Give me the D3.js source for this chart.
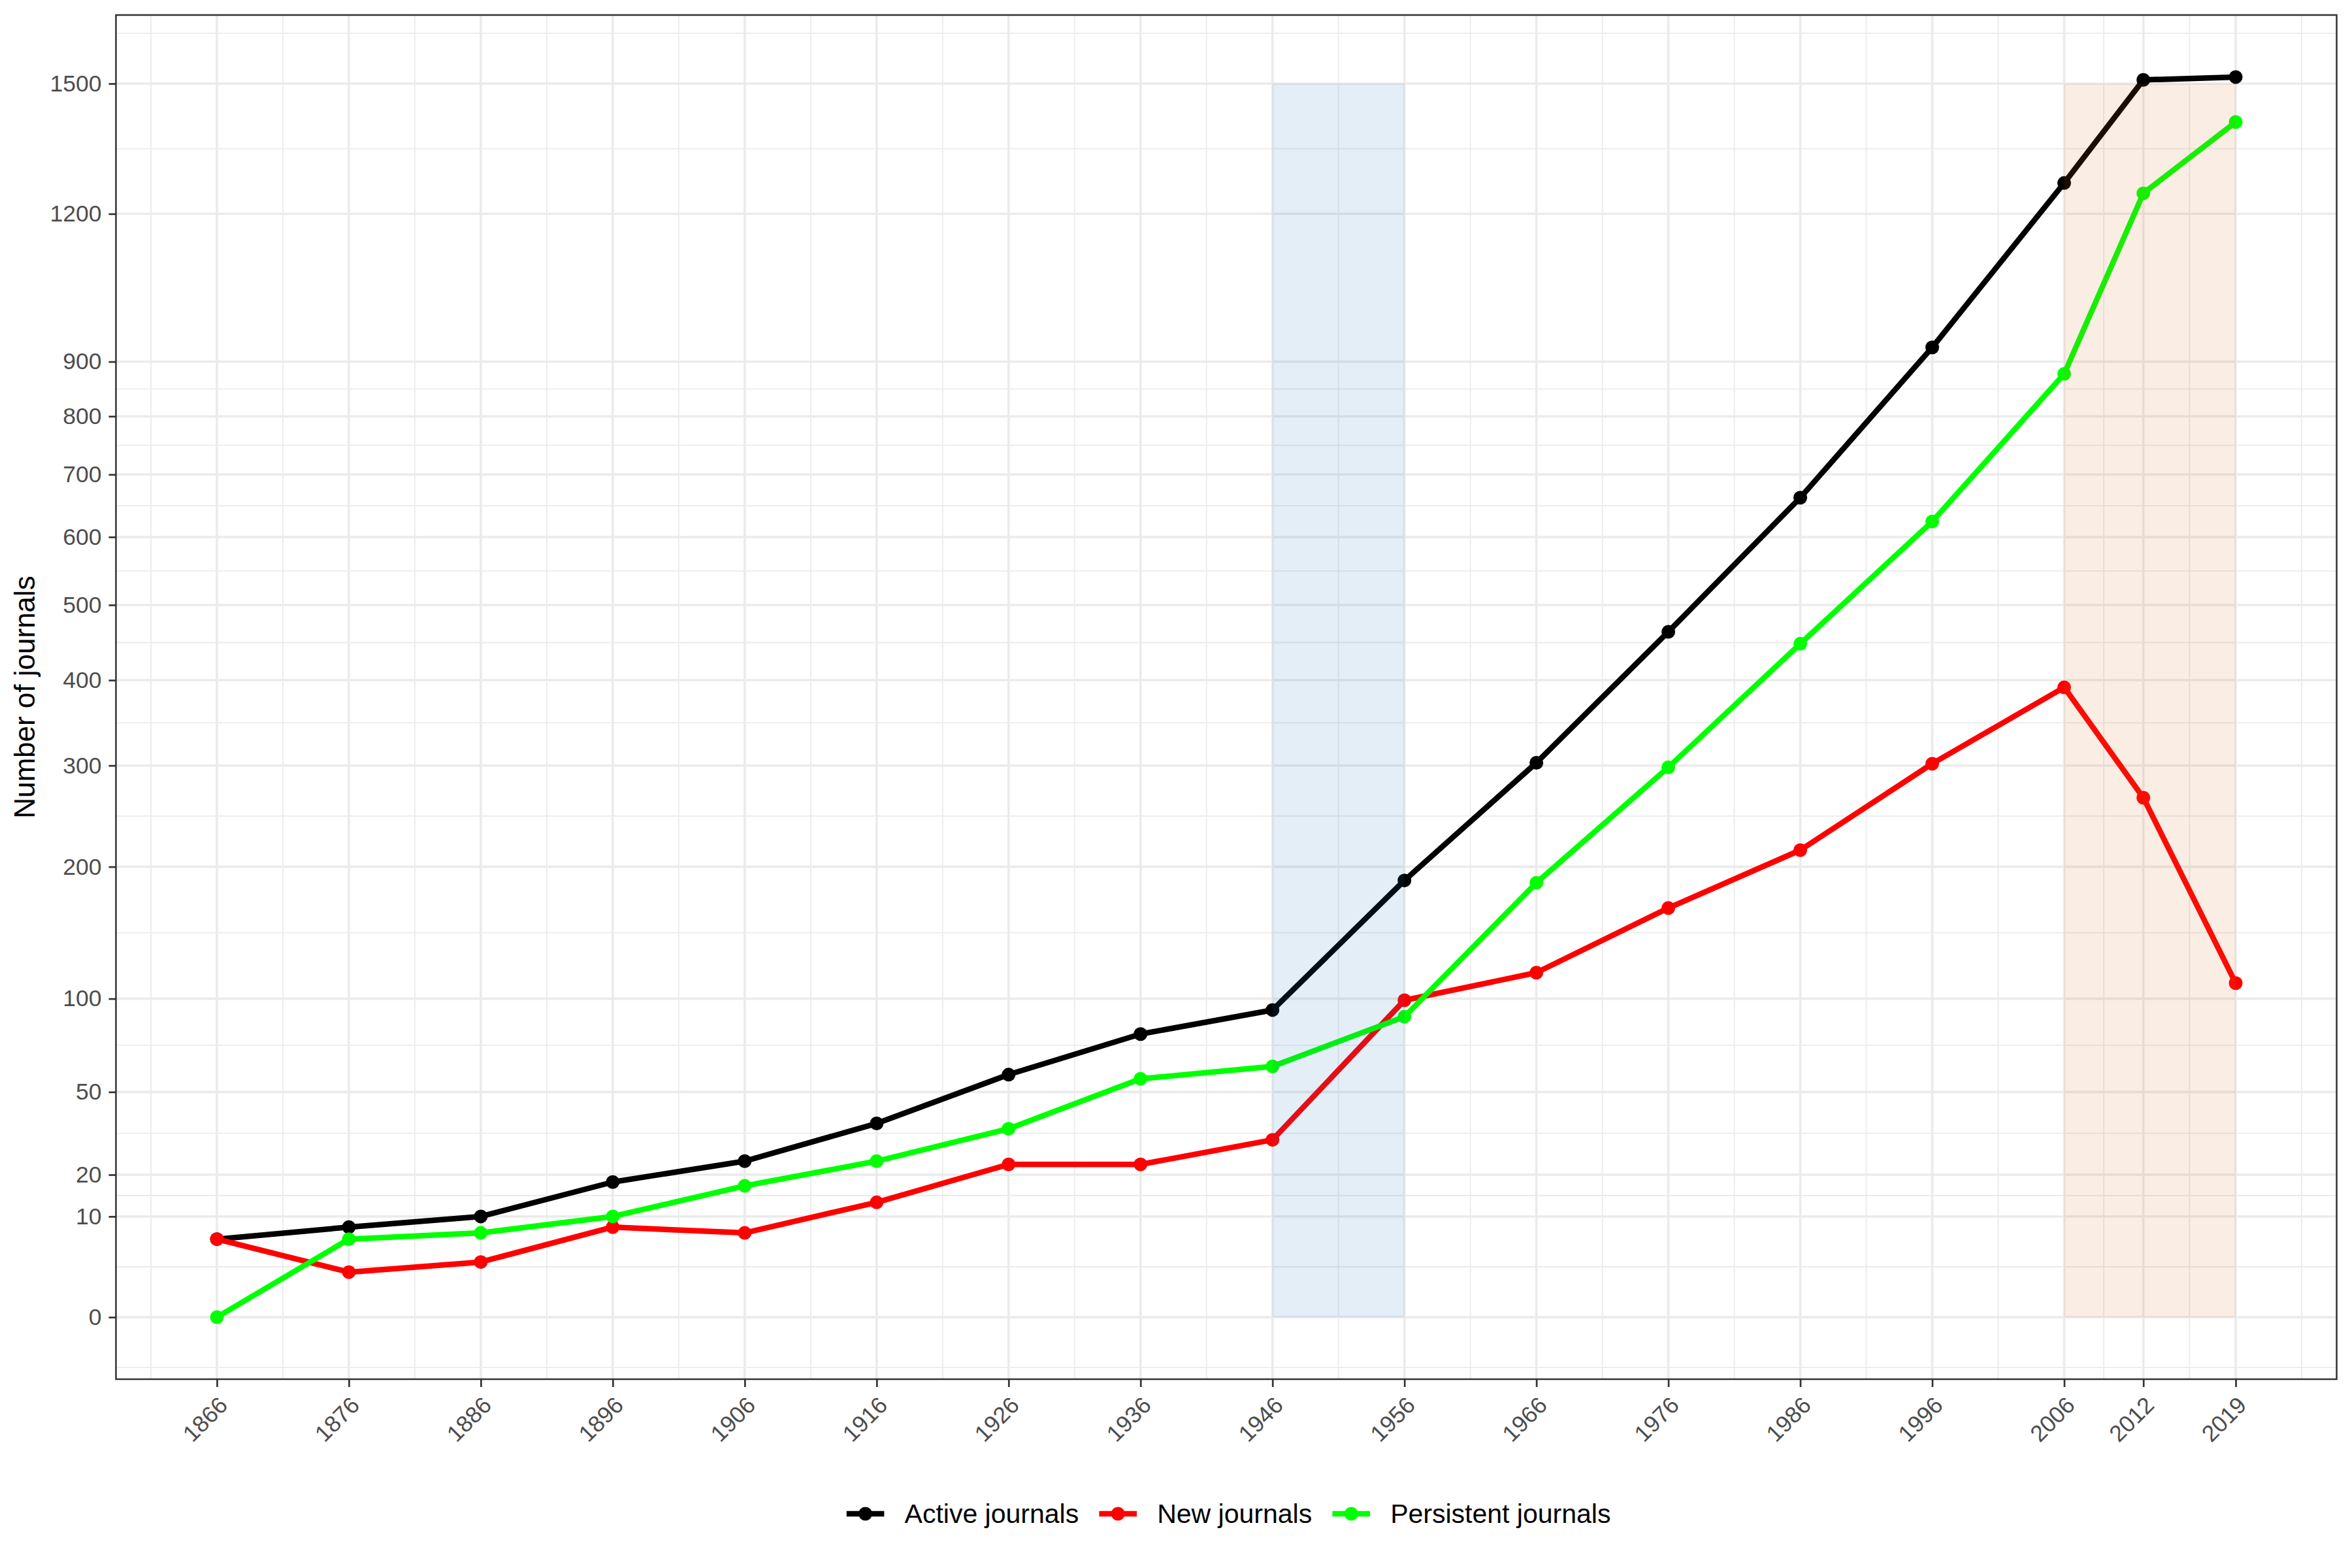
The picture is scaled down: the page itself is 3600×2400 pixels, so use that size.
<!DOCTYPE html>
<html>
<head>
<meta charset="utf-8">
<script src="https://cdn.jsdelivr.net/npm/d3@7"></script>
<style>
  body { margin: 0; background: #ffffff; }
  text { font-family: "Liberation Sans", Arial, sans-serif; }
</style>
</head>
<body>
<svg id="chart" width="3600" height="2400"></svg>
<script>
// ---------------- data ----------------
const years = [1866, 1876, 1886, 1896, 1906, 1916, 1926, 1936, 1946, 1956, 1966, 1976, 1986, 1996, 2006, 2012, 2019];
const activeJournals     = [6, 8, 10, 18, 24, 37, 58, 79, 93, 188, 303, 463, 662, 927, 1268, 1509, 1516];
const newJournals        = [6, 2, 3, 8, 7, 13, 23, 23, 31, 99, 117, 165, 215, 302, 391, 266, 110];
const persistentJournals = [0, 6, 7, 10, 17, 24, 35, 56, 62, 89, 186, 298, 447, 624, 877, 1245, 1408];
const seriesNames  = ["Active journals", "New journals", "Persistent journals"];
const seriesColors = ["#000000", "#FF0000", "#00FF00"];
const xBreaks = years;
const yBreaks = [0, 10, 20, 50, 100, 200, 300, 400, 500, 600, 700, 800, 900, 1200, 1500];
const periodStart = [1946, 2006];
const periodEnd   = [1956, 2019];
const periodTop   = [1500, 1500];
const periodColors = ["#1f77b4", "#d2691e"];
const yTitle = "Number of journals";

// ---------------- layout ----------------
const P = { left: 177.5, right: 3576.5, top: 23, bottom: 2111 };
const svg = d3.select("#chart");
svg.append("rect").attr("width", 3600).attr("height", 2400).attr("fill", "#ffffff");

const seriesValues = [activeJournals, newJournals, persistentJournals];
const series = seriesNames.map((name, i) => ({
  name, color: seriesColors[i],
  points: years.map((yr, j) => ({ year: yr, value: seriesValues[i][j] }))
}));

// x: linear with 5% expansion
const xMin = d3.min(years), xMax = d3.max(years), xSpan = xMax - xMin;
const x = d3.scaleLinear().domain([xMin - 0.05 * xSpan, xMax + 0.05 * xSpan]).range([P.left, P.right]);

// y: sqrt with 5% expansion in transformed space
const sMax = Math.sqrt(d3.max(seriesValues.flat()));
const pad = 0.05 * sMax;
const y = d3.scaleSqrt().domain([-(pad * pad), Math.pow(sMax + pad, 2)]).range([P.bottom, P.top]);
const sq = s => (s < 0 ? -s * s : s * s);

// minor breaks (midpoints between major breaks, extended to the limits)
function minorBreaks(b, lo, hi) {
  const bd = b[1] - b[0];
  let e = b.slice();
  if (lo < e[0]) e = [e[0] - bd].concat(e);
  if (hi > e[e.length - 1]) e = e.concat([e[e.length - 1] + bd]);
  const out = [];
  for (let i = 0; i < e.length - 1; i++) out.push({ v: (e[i] + e[i + 1]) / 2, a: e[i], b: e[i + 1] });
  return out;
}
const xd = x.domain();
const xMinor = minorBreaks(xBreaks, xd[0], xd[1]).map(d => d.v).filter(v => v > xd[0] && v < xd[1]);
const sBreaks = yBreaks.map(Math.sqrt);
const sLo = -pad, sHi = sMax + pad;
// the reference shows no minor line between 900 and 1200
const yMinor = minorBreaks(sBreaks, sLo, sHi)
  .filter(d => !(Math.abs(d.a - Math.sqrt(900)) < 1e-9 && Math.abs(d.b - Math.sqrt(1200)) < 1e-9))
  .map(d => d.v).filter(v => v > sLo && v < sHi).map(sq);

const grid = svg.append("g");
grid.selectAll(".ymin").data(yMinor).join("line")
  .attr("x1", P.left).attr("x2", P.right).attr("y1", d => y(d)).attr("y2", d => y(d))
  .attr("stroke", "#EBEBEB").attr("stroke-width", 1.8);
grid.selectAll(".xmin").data(xMinor).join("line")
  .attr("x1", d => x(d)).attr("x2", d => x(d)).attr("y1", P.top).attr("y2", P.bottom)
  .attr("stroke", "#EBEBEB").attr("stroke-width", 1.8);
grid.selectAll(".ymaj").data(yBreaks).join("line")
  .attr("x1", P.left).attr("x2", P.right).attr("y1", d => y(d)).attr("y2", d => y(d))
  .attr("stroke", "#EBEBEB").attr("stroke-width", 3.6);
grid.selectAll(".xmaj").data(xBreaks).join("line")
  .attr("x1", d => x(d)).attr("x2", d => x(d)).attr("y1", P.top).attr("y2", P.bottom)
  .attr("stroke", "#EBEBEB").attr("stroke-width", 3.6);

// lines
const line = d3.line().x(d => x(d.year)).y(d => y(d.value));
svg.append("g").selectAll("path").data(series).join("path")
  .attr("d", d => line(d.points))
  .attr("fill", "none").attr("stroke", d => d.color)
  .attr("stroke-width", 8.5).attr("stroke-linejoin", "round");

// points
const ptG = svg.append("g");
series.forEach(s => {
  ptG.append("g").selectAll("circle").data(s.points).join("circle")
    .attr("cx", d => x(d.year)).attr("cy", d => y(d.value)).attr("r", 10.5)
    .attr("fill", s.color);
});

// highlighted periods (drawn over the data, translucent)
const periods = periodStart.map((s, i) => ({ s, e: periodEnd[i], top: periodTop[i], c: periodColors[i] }));
svg.append("g").selectAll("rect").data(periods).join("rect")
  .attr("x", d => x(d.s)).attr("width", d => x(d.e) - x(d.s))
  .attr("y", d => y(d.top)).attr("height", d => y(0) - y(d.top))
  .attr("fill", d => d.c).attr("fill-opacity", 0.12);

// panel border
svg.append("rect").attr("x", P.left).attr("y", P.top)
  .attr("width", P.right - P.left).attr("height", P.bottom - P.top)
  .attr("fill", "none").attr("stroke", "#333333").attr("stroke-width", 2.5);

// y axis
const yAxis = svg.append("g").attr("transform", `translate(${P.left},0)`)
  .call(d3.axisLeft(y).tickValues(yBreaks).tickFormat(d3.format("d")).tickSize(11).tickPadding(11));
yAxis.select(".domain").remove();
yAxis.selectAll("line").attr("stroke", "#333333").attr("stroke-width", 2.7);
yAxis.selectAll("text").attr("fill", "#4D4D4D").style("font-size", "35.5px")
  .style("font-family", "'Liberation Sans', Arial, sans-serif");

// x axis
const xAxis = svg.append("g").attr("transform", `translate(0,${P.bottom})`)
  .call(d3.axisBottom(x).tickValues(xBreaks).tickFormat(d3.format("d")).tickSize(12));
xAxis.select(".domain").remove();
xAxis.selectAll("line").attr("stroke", "#333333").attr("stroke-width", 2.7);
xAxis.selectAll("text")
  .attr("fill", "#4D4D4D").style("font-size", "35.5px")
  .style("font-family", "'Liberation Sans', Arial, sans-serif")
  .attr("x", 0).attr("y", 0).attr("dy", "0.72em")
  .attr("text-anchor", "end")
  .attr("transform", "translate(0,24) rotate(-45)");

// y title
svg.append("text")
  .attr("transform", `translate(53,${(P.top + P.bottom) / 2}) rotate(-90)`)
  .attr("text-anchor", "middle").attr("fill", "#000000")
  .style("font-size", "44px").text(yTitle);

// legend
const legY = 2317, keyW = 72, gap = 24;
const leg = svg.append("g");
const items = series.map(s => {
  const g = leg.append("g");
  g.append("line").attr("x1", keyW * 0.1).attr("x2", keyW * 0.9).attr("y1", 0).attr("y2", 0)
    .attr("stroke", s.color).attr("stroke-width", 8.5);
  g.append("circle").attr("cx", keyW / 2).attr("cy", 0).attr("r", 10.5).attr("fill", s.color);
  const t = g.append("text").attr("x", keyW + gap).attr("y", 0).attr("dy", "0.35em")
    .attr("fill", "#000000").style("font-size", "41px").text(s.name);
  return { g, w: keyW + gap + t.node().getComputedTextLength() };
});
const totalW = d3.sum(items, d => d.w) + gap * (items.length - 1);
let cx = (P.left + P.right) / 2 - totalW / 2;
items.forEach(it => {
  it.g.attr("transform", `translate(${cx},${legY})`);
  cx += it.w + gap;
});
</script>
</body>
</html>
